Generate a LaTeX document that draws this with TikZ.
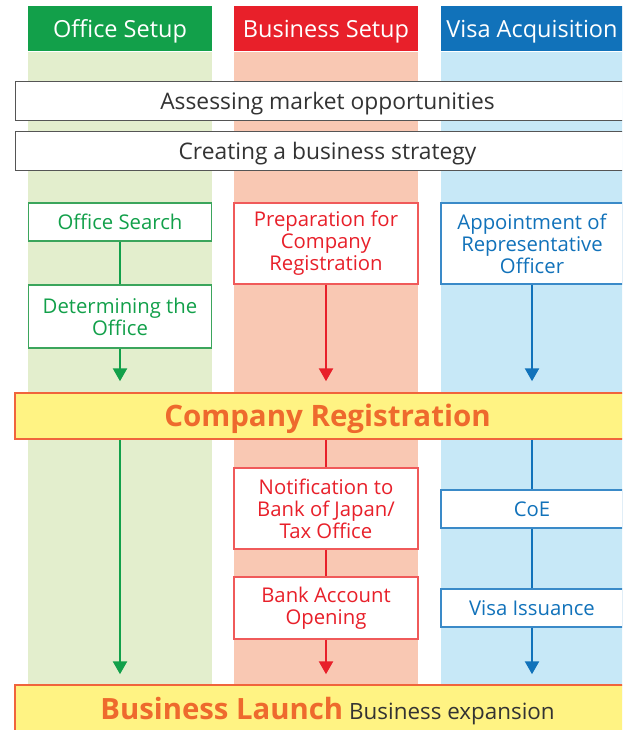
\documentclass[tikz,border=0pt]{standalone}
\usepackage{fontspec}
\setmainfont{Open Sans}
\usetikzlibrary{arrows.meta}
\definecolor{gHead}{HTML}{12A04A}
\definecolor{rHead}{HTML}{E8202A}
\definecolor{bHead}{HTML}{1172BA}
\definecolor{gBg}{HTML}{E3EECD}
\definecolor{rBg}{HTML}{F9C8B3}
\definecolor{bBg}{HTML}{C7E8F7}
\definecolor{gLine}{HTML}{3BA55C}
\definecolor{rLine}{HTML}{F05A5A}
\definecolor{bLine}{HTML}{3A8AC8}
\definecolor{yel}{HTML}{FFF383}
\definecolor{orng}{HTML}{EE6A2D}
\definecolor{orngB}{HTML}{F0643C}
\definecolor{darkT}{HTML}{333333}
\definecolor{grayB}{HTML}{555555}
\tikzset{
  hdr/.style={minimum height=45pt, text=white, inner sep=0pt, text depth=0.5pt,
    font=\fontsize{23.5}{26}\selectfont},
  bar/.style={draw=grayB, line width=1pt, fill=white, minimum width=625pt,
    minimum height=39pt, inner sep=0pt, text depth=0.5pt, text=darkT,
    font=\fontsize{22.8}{26}\selectfont},
  stepbox/.style={fill=white, line width=1.2pt, inner sep=0pt, align=center,
    font=\fontsize{20.3}{22}\selectfont},
  gbox/.style={stepbox, draw=gLine, text=gHead, minimum width=183pt},
  rbox/.style={stepbox, draw=rLine, text=rHead, minimum width=184pt},
  bbox/.style={stepbox, draw=bLine, text=bHead, minimum width=182pt},
  ybar/.style={draw=orngB, line width=1.5pt, fill=yel, minimum width=625pt,
    inner sep=0pt},
  conn/.style={line width=2.5pt},
  arr/.style={conn, -{Triangle[width=14pt,length=13pt]}}
}
\begin{document}
\begin{tikzpicture}[x=1pt,y=-1pt]
\useasboundingbox (0,0) rectangle (622,730);
\clip (0,0) rectangle (622,730);
% column backgrounds
\fill[gBg] (28,52) rectangle (212,700);
\fill[rBg] (234,52) rectangle (418,700);
\fill[bBg] (441,52) rectangle (640,700);
% headers
\node[hdr, fill=gHead, minimum width=184pt] (h1) at (120,29) {Office Setup};
\node[hdr, fill=rHead, minimum width=184pt] (h2) at (326,29) {Business Setup};
\node[hdr, fill=bHead, minimum width=182pt] (h3) at (532,29) {Visa Acquisition};
% bars
\node[bar] (amo) at (327.5,101.5) {Assessing market opportunities};
\node[bar] (cbs) at (327.5,151.5) {Creating a business strategy};
% green column
\node[gbox, minimum height=38pt] (os) at (120,222) {Office Search};
\node[gbox, minimum height=63pt] (dto) at (120,316.5) {Determining the\\Office};
% red column
\node[rbox, minimum height=81pt] (prep) at (326,243.5) {Preparation for\\Company\\Registration};
\node[rbox, minimum height=81pt] (notif) at (326,508.5) {Notification to\\Bank of Japan/\\Tax Office};
\node[rbox, minimum height=62pt] (bank) at (326,608) {Bank Account\\Opening};
% blue column
\node[bbox, minimum height=81pt] (appt) at (532,243.5) {Appointment of\\Representative\\Officer};
\node[bbox, minimum height=38pt] (coe) at (532,509) {CoE};
\node[bbox, minimum height=38pt] (visa) at (532,608) {Visa Issuance};
% company registration
\node[ybar, minimum height=46pt, text=orng, text depth=0.5pt,
  font=\fontsize{29.5}{32}\selectfont\bfseries] (cr) at (327.5,416) {Company Registration};
% business launch
\node[ybar, minimum height=52pt] (bl) at (327.5,711)
  {{\fontsize{29.3}{32}\selectfont\bfseries\color{orng}Business Launch}\hspace{6pt}{\fontsize{22.4}{26}\selectfont\color{darkT}Business expansion}};
% connectors
\draw[conn, gHead] (os) -- (dto);
\draw[arr, gHead, shorten >=11pt] (dto) -- (dto.south |- cr.north);
\draw[arr, gHead, shorten >=10pt] (cr.south -| dto) -- (bl.north -| dto);
\draw[arr, rHead, shorten >=11pt] (prep) -- (prep.south |- cr.north);
\draw[conn, rHead] (cr.south -| notif) -- (notif);
\draw[conn, rHead] (notif) -- (bank);
\draw[arr, rHead, shorten >=10pt] (bank) -- (bank.south |- bl.north);
\draw[arr, bHead, shorten >=11pt] (appt) -- (appt.south |- cr.north);
\draw[conn, bHead] (cr.south -| coe) -- (coe);
\draw[conn, bHead] (coe) -- (visa);
\draw[arr, bHead, shorten >=10pt] (visa) -- (visa.south |- bl.north);
\end{tikzpicture}
\end{document}
